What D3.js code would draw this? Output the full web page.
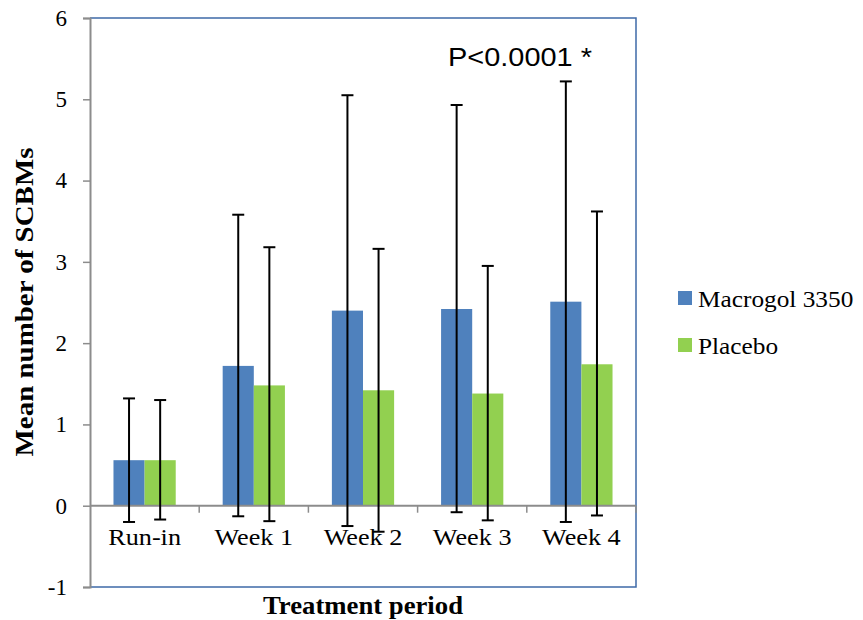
<!DOCTYPE html>
<html>
<head>
<meta charset="utf-8">
<script src="https://cdn.jsdelivr.net/npm/d3@7"></script>
<style>
  body { margin: 0; background: #fff; }
  svg text { font-family: "Liberation Serif", "Times New Roman", serif; fill: #000; }
</style>
</head>
<body>
<div id="chart"></div>
<script>
var width = 863;
var height = 620;

// data
var periods = ["Run-in", "Week 1", "Week 2", "Week 3", "Week 4"];
var seriesNames = ["Macrogol 3350", "Placebo"];
var macrogolMean = [0.56, 1.72, 2.40, 2.42, 2.51];
var macrogolHigh = [1.32, 3.58, 5.05, 4.93, 5.22];
var macrogolLow  = [-0.20, -0.13, -0.25, -0.08, -0.20];
var placeboMean  = [0.56, 1.48, 1.42, 1.38, 1.74];
var placeboHigh  = [1.30, 3.18, 3.16, 2.95, 3.62];
var placeboLow   = [-0.17, -0.19, -0.32, -0.18, -0.12];
var yTicks = [-1, 0, 1, 2, 3, 4, 5, 6];
var colors = ["#4F81BD", "#92D050"];

var rows = [];
periods.forEach(function(p, i) {
    rows.push({period: p, series: 0, mean: macrogolMean[i], hi: macrogolHigh[i], lo: macrogolLow[i]});
    rows.push({period: p, series: 1, mean: placeboMean[i], hi: placeboHigh[i], lo: placeboLow[i]});
});

var plotL = 90, plotR = 636, plotT = 18, plotB = 587;

var xScale = d3.scaleBand().domain(periods).range([plotL, plotR]).paddingInner(0).paddingOuter(0);
var bw = xScale.bandwidth();
var barW = bw * 0.285;
var xSub = d3.scaleBand().domain([0, 1]).range([bw / 2 - barW, bw / 2 + barW]);
var yScale = d3.scaleLinear().domain([-1, 6]).range([plotB, plotT]);

var svg = d3.select("#chart").append("svg")
    .attr("width", width)
    .attr("height", height);

// plot border (blue, top/right/bottom)
svg.append("path")
    .attr("d", "M" + plotL + "," + plotT + "H" + plotR + "V" + plotB + "H" + plotL)
    .attr("fill", "none")
    .attr("stroke", "#3E6AA8")
    .attr("stroke-width", 1.5);

// bars
svg.selectAll("rect.bar")
    .data(rows)
    .enter()
    .append("rect")
    .attr("class", "bar")
    .attr("x", function(d) { return xScale(d.period) + xSub(d.series); })
    .attr("width", xSub.bandwidth())
    .attr("y", function(d) { return yScale(d.mean); })
    .attr("height", function(d) { return yScale(0) - yScale(d.mean); })
    .attr("fill", function(d) { return colors[d.series]; });

// x axis line with ticks between categories
var xAxisG = svg.append("g");
xAxisG.append("line")
    .attr("x1", plotL).attr("x2", plotR)
    .attr("y1", yScale(0)).attr("y2", yScale(0))
    .attr("stroke", "#8c8c8c").attr("stroke-width", 2);
var bounds = periods.map(function(p) { return xScale(p); }).concat([plotR]);
xAxisG.selectAll("line.tk")
    .data(bounds.slice(1))
    .enter()
    .append("line")
    .attr("class", "tk")
    .attr("x1", function(d) { return d; }).attr("x2", function(d) { return d; })
    .attr("y1", yScale(0)).attr("y2", yScale(0) + 7)
    .attr("stroke", "#8c8c8c").attr("stroke-width", 1.5);

// error bars
var err = svg.append("g");
rows.forEach(function(d) {
    var cx = xScale(d.period) + xSub(d.series) + xSub.bandwidth() / 2;
    err.append("line")
        .attr("x1", cx).attr("x2", cx)
        .attr("y1", yScale(d.hi)).attr("y2", yScale(d.lo))
        .attr("stroke", "#000").attr("stroke-width", 2);
    [d.hi, d.lo].forEach(function(v) {
        err.append("line")
            .attr("x1", cx - 6).attr("x2", cx + 6)
            .attr("y1", yScale(v)).attr("y2", yScale(v))
            .attr("stroke", "#000").attr("stroke-width", 2);
    });
});

// category labels
svg.selectAll("text.cat")
    .data(periods)
    .enter()
    .append("text")
    .attr("class", "cat")
    .attr("x", function(d) { return xScale(d) + bw / 2; })
    .attr("y", 545)
    .attr("text-anchor", "middle")
    .style("font-size", "23px")
    .text(function(d) { return d; })
    .each(function() {
        var w = this.getComputedTextLength();
        d3.select(this).attr("textLength", w * 1.14).attr("lengthAdjust", "spacingAndGlyphs");
    });

// y axis
var yAxis = d3.axisLeft(yScale).tickValues(yTicks).tickSize(7).tickPadding(16).tickFormat(d3.format("d"));
var yG = svg.append("g")
    .attr("transform", "translate(" + plotL + ",0)")
    .call(yAxis);
yG.select(".domain").attr("stroke", "#8c8c8c").attr("stroke-width", 2);
yG.selectAll(".tick line").attr("stroke", "#8c8c8c").attr("stroke-width", 1.5);
yG.selectAll(".tick text")
    .style("font-family", "'Liberation Serif', 'Times New Roman', serif")
    .style("font-size", "23px")
    .attr("fill", "#000")
    .text(function(d) { return d < 0 ? "-" + Math.abs(d) : d; });

// axis titles
svg.append("text")
    .attr("x", 363)
    .attr("y", 614)
    .attr("text-anchor", "middle")
    .attr("textLength", 200)
    .attr("lengthAdjust", "spacingAndGlyphs")
    .style("font-size", "25px")
    .style("font-weight", "bold")
    .text("Treatment period");

svg.append("text")
    .attr("transform", "translate(33,302) rotate(-90)")
    .attr("text-anchor", "middle")
    .attr("textLength", 309)
    .attr("lengthAdjust", "spacingAndGlyphs")
    .style("font-size", "26px")
    .style("font-weight", "bold")
    .text("Mean number of SCBMs");

// annotation
svg.append("text")
    .attr("x", 448)
    .attr("y", 66)
    .attr("textLength", 144)
    .attr("lengthAdjust", "spacingAndGlyphs")
    .style("font-family", "'Liberation Sans', Arial, sans-serif")
    .style("font-size", "25px")
    .text("P<0.0001 *");

// legend
var legend = svg.selectAll("g.legend")
    .data(seriesNames)
    .enter()
    .append("g")
    .attr("class", "legend")
    .attr("transform", function(d, i) { return "translate(678," + (291 + i * 47) + ")"; });
legend.append("rect")
    .attr("width", 14).attr("height", 14)
    .attr("fill", function(d, i) { return colors[i]; });
legend.append("text")
    .attr("x", 20)
    .attr("y", 16)
    .style("font-size", "23px")
    .text(function(d) { return d; })
    .each(function() {
        var w = this.getComputedTextLength();
        d3.select(this).attr("textLength", w * 1.1).attr("lengthAdjust", "spacingAndGlyphs");
    });
</script>
</body>
</html>
